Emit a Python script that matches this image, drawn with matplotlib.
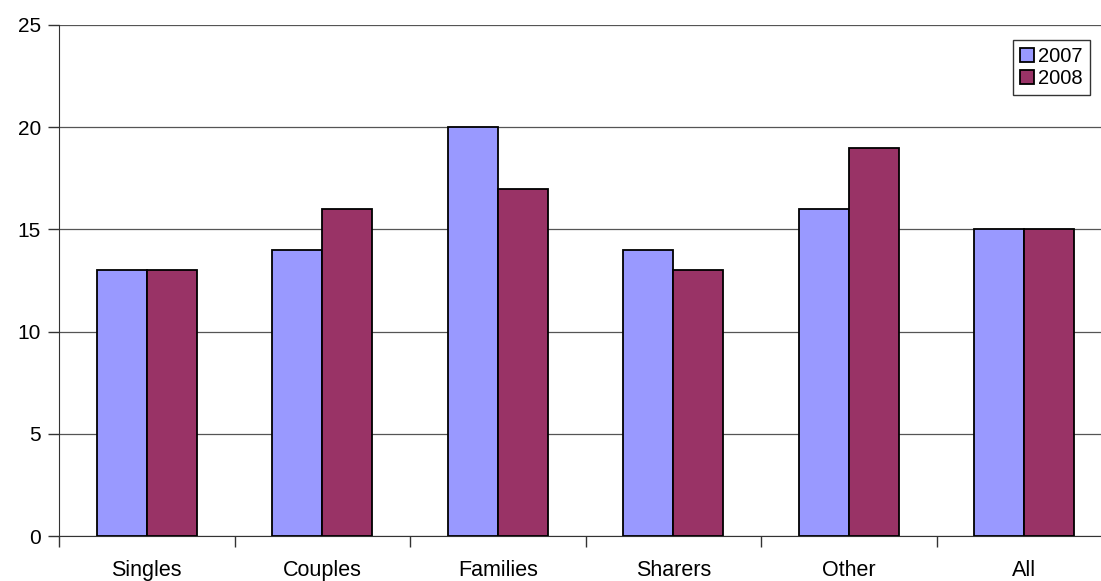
import matplotlib
matplotlib.use('Agg')
import matplotlib.pyplot as plt
import numpy as np

plt.rcParams['font.family'] = ['Liberation Sans', 'DejaVu Sans']

# Données
categories = ['Singles', 'Couples', 'Families', 'Sharers', 'Other', 'All']
valeurs_2007 = [13, 14, 20, 14, 16, 15]
valeurs_2008 = [13, 16, 17, 13, 19, 15]

W, H = 1101, 581
fig = plt.figure(figsize=(W / 100, H / 100), dpi=100)
ax = fig.add_axes([59 / W, 45 / H, 1053 / W, 511 / H])

x = np.arange(len(categories)) + 0.5
larg = 0.285
ax.bar(x - larg / 2, valeurs_2007, larg, color='#9999FF', edgecolor='black', linewidth=1.3, label='2007', zorder=3)
ax.bar(x + larg / 2, valeurs_2008, larg, color='#993366', edgecolor='black', linewidth=1.3, label='2008', zorder=3)

ax.set_xlim(0, len(categories))
ax.set_ylim(0, 25)
ax.set_yticks(range(0, 26, 5))
ax.set_xticks(np.arange(len(categories) + 1))
ax.set_xticklabels([])
ax.set_xticks(x, minor=True)
ax.set_xticklabels(categories, minor=True, fontsize=15.5)
ax.tick_params(axis='x', which='minor', length=0, pad=17)
ax.tick_params(axis='x', which='major', length=8, direction='out', width=1, color='#333333')
ax.tick_params(axis='y', length=8, direction='out', width=1, labelsize=15, pad=5, color='#333333')

ax.grid(True, axis='y', color='#555555', linewidth=0.9, zorder=0)
for s in ['top', 'right']:
    ax.spines[s].set_visible(False)
ax.spines['left'].set_color('#333333')
ax.spines['bottom'].set_color('#333333')

leg = ax.legend(loc='upper right', bbox_to_anchor=(1031 / 1053, (536 - 40) / 511),
                fontsize=14.5, frameon=True, fancybox=False, borderpad=0.35,
                handlelength=0.7, handleheight=0.7, handletextpad=0.2, labelspacing=0.15,
                borderaxespad=0)
leg.get_frame().set_edgecolor('black')
leg.get_frame().set_linewidth(1)

fig.savefig('out.png', dpi=100)
